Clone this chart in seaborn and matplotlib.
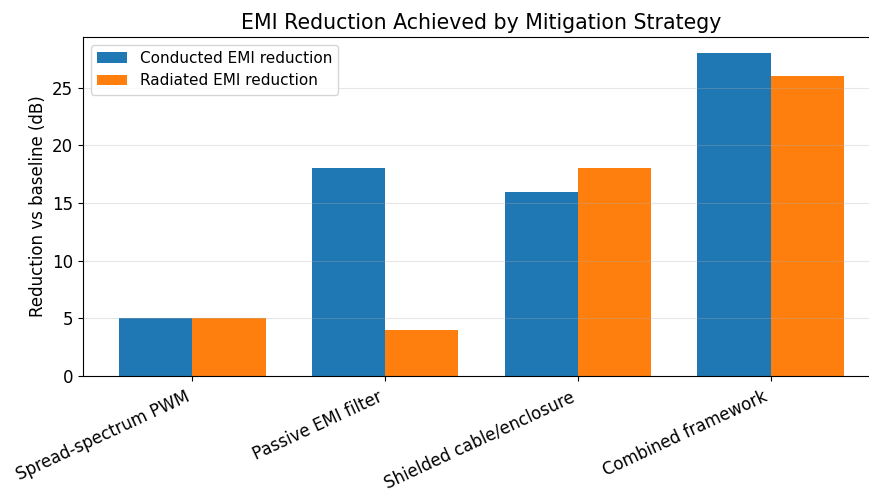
import matplotlib
matplotlib.use("Agg")
import matplotlib.pyplot as plt
import seaborn as sns
import pandas as pd

strategies = ["Spread-spectrum PWM", "Passive EMI filter", "Shielded cable/enclosure", "Combined framework"]
conducted = [5, 18, 16, 28]
radiated = [5, 4, 18, 26]
series_names = ["Conducted EMI reduction", "Radiated EMI reduction"]
colors = ["#1f77b4", "#ff7f0e"]

df = pd.DataFrame({
    "Strategy": strategies * 2,
    "Reduction": conducted + radiated,
    "Type": [series_names[0]] * len(strategies) + [series_names[1]] * len(strategies),
})

fig = plt.figure(figsize=(8.7, 4.91), dpi=100)
ax = fig.add_axes([83 / 870, 1 - 376 / 491, (880 - 83) / 870, (376 - 37) / 491])

sns.barplot(data=df, x="Strategy", y="Reduction", hue="Type", palette=colors,
            width=0.76, saturation=1, ax=ax, errorbar=None)

ax.set_xlim(-0.568, 3.568)
ax.set_ylim(0, 29.4)
ax.set_title("EMI Reduction Achieved by Mitigation Strategy", fontsize=14.8)
ax.set_ylabel("Reduction vs baseline (dB)", fontsize=12)
ax.set_xlabel("")
ax.tick_params(axis="both", labelsize=12)
ax.tick_params(axis="x", pad=5)
plt.setp(ax.get_xticklabels(), rotation=25, ha="right")
ax.grid(axis="y", alpha=0.3)
ax.set_axisbelow(False)
for s in ax.spines.values():
    s.set_visible(True)
leg = ax.legend(loc="upper left", fontsize=11)

fig.savefig("out.png", dpi=100)
